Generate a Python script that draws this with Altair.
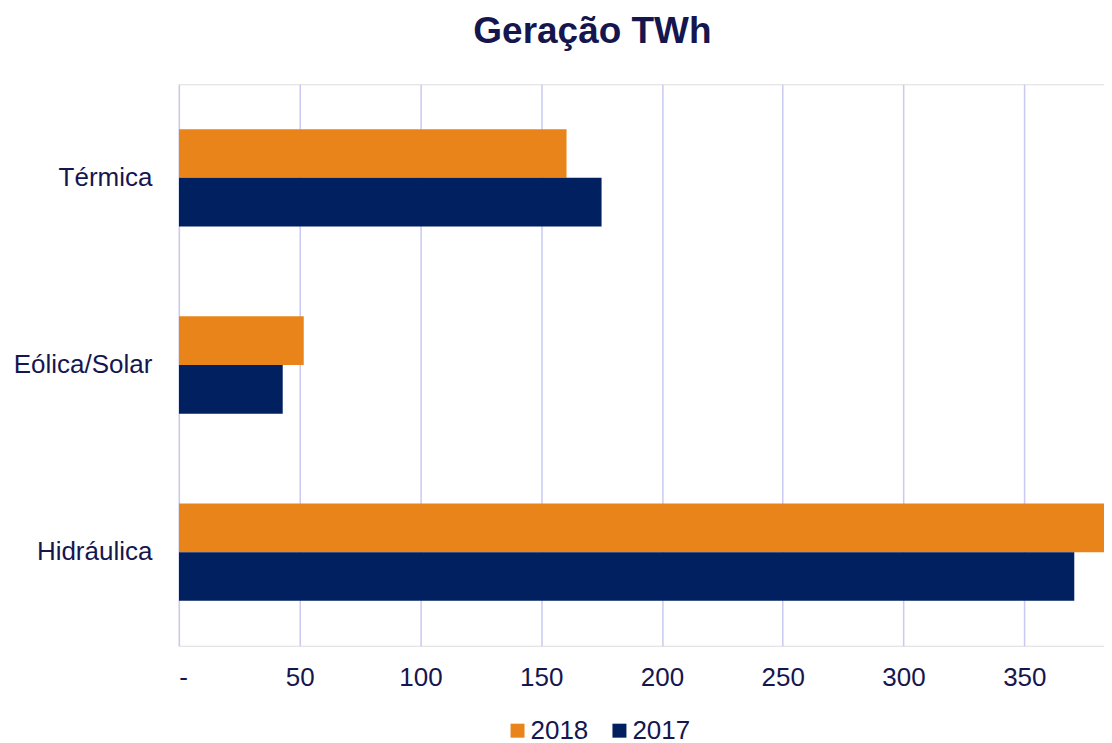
import altair as alt
import pandas as pd

categories = ["Térmica", "Eólica/Solar", "Hidráulica"]
years = ["2018", "2017"]
values_2018 = [160.5, 51.7, 389]
values_2017 = [175, 43, 370.7]

rows = []
for c, v18, v17 in zip(categories, values_2018, values_2017):
    rows.append({"fonte": c, "ano": "2018", "valor": v18})
    rows.append({"fonte": c, "ano": "2017", "valor": v17})
df = pd.DataFrame(rows)

text_color = "#16164F"
font = "Liberation Sans"

chart = alt.Chart(df).mark_bar(clip=True).encode(
    y=alt.Y("fonte:N", sort=categories, title=None,
            scale=alt.Scale(paddingInner=0.48, paddingOuter=0.24),
            axis=alt.Axis(labelFontSize=26, labelColor=text_color, labelFont=font,
                          labelPadding=27, ticks=False, domain=False, grid=False)),
    yOffset=alt.YOffset("ano:N", sort=years),
    x=alt.X("valor:Q", title=None,
            scale=alt.Scale(domain=[0, 383], nice=False, zero=True),
            axis=alt.Axis(values=[0, 50, 100, 150, 200, 250, 300, 350],
                          labelExpr="datum.value == 0 ? '-' : datum.label",
                          labelFontSize=26, labelColor=text_color, labelFont=font,
                          labelPadding=19, ticks=False, domain=False,
                          grid=True, gridColor="#C9C9F2", gridWidth=1.5)),
    color=alt.Color("ano:N", sort=years,
                    scale=alt.Scale(domain=years, range=["#E8841A", "#002060"]),
                    legend=alt.Legend(title=None, orient="none", direction="horizontal",
                                      legendX=326, legendY=634,
                                      symbolType="square", symbolSize=196,
                                      symbolStrokeWidth=0,
                                      labelFontSize=26, labelColor=text_color,
                                      labelFont=font, columnPadding=18,
                                      symbolOffset=0, labelOffset=0)),
).properties(
    width=926,
    height=562,
    padding={"left": 5, "top": 5, "right": 0, "bottom": 5},
    title=alt.TitleParams("Geração TWh", fontSize=37, font=font, fontWeight="bold",
                          color=text_color, anchor="middle", dx=-49, offset=33),
).configure_view(stroke=None).configure(background="white")

chart.save("out.html", embed_options={"renderer": "svg", "actions": False})
